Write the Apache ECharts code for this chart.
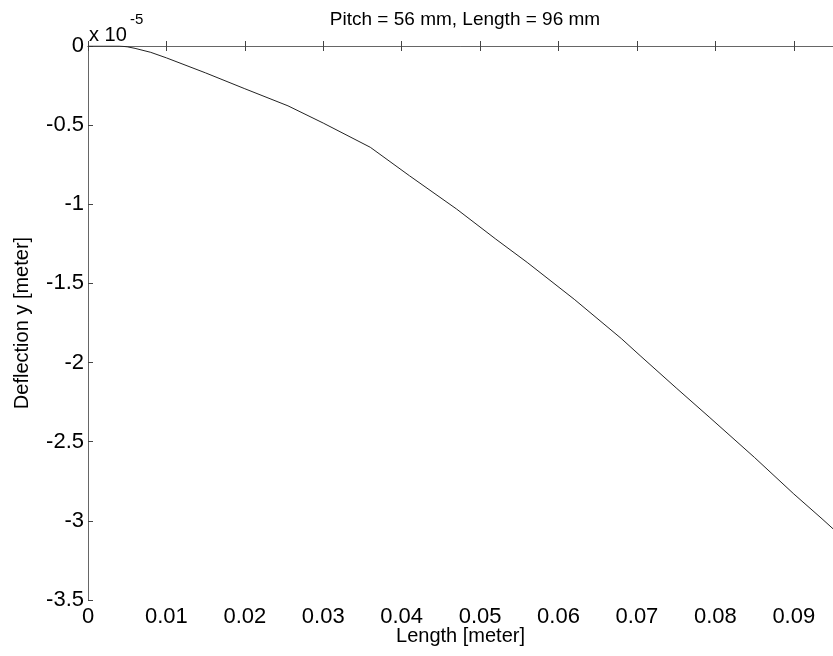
<!DOCTYPE html>
<html>
<head>
<meta charset="utf-8">
<script src="https://cdn.jsdelivr.net/npm/echarts@6/dist/echarts.min.js"></script>
<style>
  html, body { margin: 0; padding: 0; background: #fff; }
  #chart { width: 833px; height: 656px; }
</style>
</head>
<body>
<div id="chart"></div>
<script>
// Beam deflection along its length (y values in units of 1e-5 m)
const lengthM = [0, 0.002, 0.004, 0.005, 0.006, 0.008, 0.010, 0.015, 0.020, 0.0255, 0.030, 0.036,
                 0.041, 0.047, 0.052, 0.056, 0.062, 0.068, 0.0704, 0.075, 0.0793, 0.085, 0.090, 0.0936, 0.095];
const deflection = [0, 0, 0, -0.005, -0.015, -0.04, -0.075, -0.17, -0.27, -0.378, -0.487, -0.64,
                    -0.82, -1.03, -1.22, -1.367, -1.60, -1.848, -1.956, -2.16, -2.348, -2.60, -2.83, -2.987, -3.05];
const xTicks = [0, 0.01, 0.02, 0.03, 0.04, 0.05, 0.06, 0.07, 0.08, 0.09];
const yTicks = [0, -0.5, -1, -1.5, -2, -2.5, -3, -3.5];

const font = 'Liberation Sans, Arial, sans-serif';
const chart = echarts.init(document.getElementById('chart'));

const axisLine = { show: true, lineStyle: { color: '#666', width: 1 } };
const tick = { show: true, inside: true, length: 5, lineStyle: { color: '#444' } };

chart.setOption({
  animation: false,
  backgroundColor: '#fff',
  title: {
    text: 'Pitch = 56 mm, Length = 96 mm',
    left: 460,
    textAlign: 'center',
    top: 5,
    textStyle: { fontFamily: font, fontSize: 19, fontWeight: 'normal', color: '#000' }
  },
  grid: { left: 88, top: 46, right: 0, bottom: 56, containLabel: false },
  xAxis: [{
    type: 'value',
    min: 0,
    max: 0.095,
    interval: 0.01,
    name: 'Length [meter]',
    nameLocation: 'middle',
    nameGap: 26,
    nameMoveOverlap: false,
    nameTextStyle: { fontFamily: font, fontSize: 20, color: '#000' },
    axisLine: axisLine,
    axisTick: tick,
    axisLabel: {
      fontFamily: font, fontSize: 22, color: '#000', margin: 6, showMaxLabel: false,
      formatter: v => {
        const t = xTicks.find(k => Math.abs(k - v) < 1e-9);
        return t === undefined ? '' : String(t);
      }
    },
    splitLine: { show: false }
  }, {
    type: 'value',
    position: 'top',
    min: 0,
    max: 0.095,
    interval: 0.01,
    axisLine: axisLine,
    axisTick: tick,
    axisLabel: { show: false },
    splitLine: { show: false }
  }],
  yAxis: {
    type: 'value',
    min: -3.5,
    max: 0,
    interval: 0.5,
    name: 'Deflection y [meter]',
    nameLocation: 'middle',
    nameGap: 56,
    nameMoveOverlap: false,
    nameTextStyle: { fontFamily: font, fontSize: 20, color: '#000' },
    axisLine: axisLine,
    axisTick: tick,
    axisLabel: {
      fontFamily: font, fontSize: 22, color: '#000', margin: 4,
      formatter: v => {
        const t = yTicks.find(k => Math.abs(k - v) < 1e-9);
        return t === undefined ? '' : String(t);
      }
    },
    splitLine: { show: false }
  },
  graphic: [{
    type: 'text',
    left: 89,
    top: 25,
    style: { text: 'x 10', fontFamily: font, fontSize: 20, fill: '#000' }
  }, {
    type: 'text',
    left: 130,
    top: 12,
    style: { text: '-5', fontFamily: font, fontSize: 15, fill: '#000' }
  }],
  series: [{
    type: 'line',
    xAxisIndex: 0,
    data: lengthM.map((x, i) => [x, deflection[i]]),
    showSymbol: false,
    smooth: false,
    lineStyle: { color: '#222', width: 1 }
  }]
});
</script>
</body>
</html>
